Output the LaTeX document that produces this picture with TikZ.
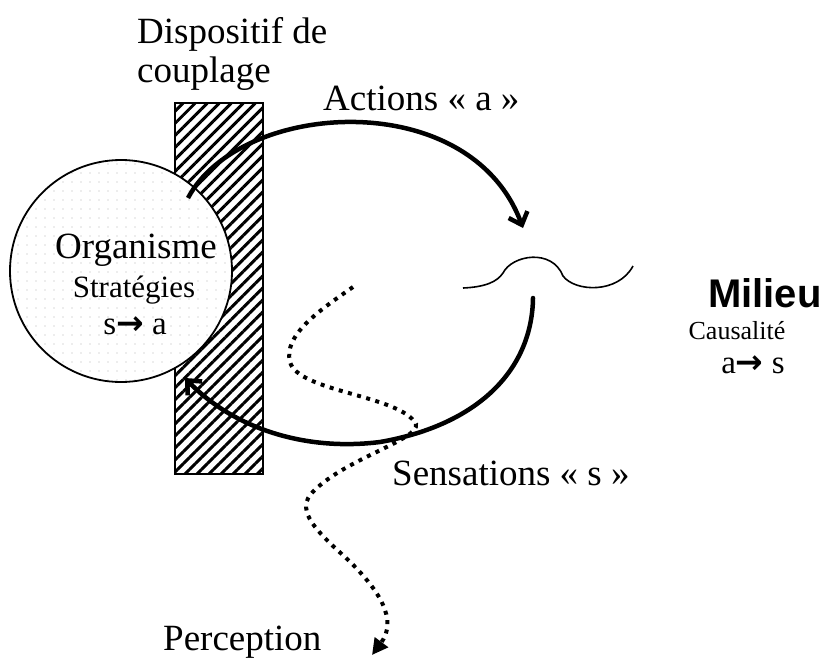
\documentclass[tikz,border=0pt]{standalone}
\usepackage{fontspec}
\setmainfont{Liberation Serif}
\newfontfamily\sansbold{Liberation Sans}
\newfontfamily\symb{DejaVu Sans}
\usetikzlibrary{arrows.meta,patterns.meta}
\begin{document}
\begin{tikzpicture}[x=1pt,y=-1pt,
  lbl/.style={inner sep=0pt,anchor=base west,font=\fontsize{37}{44}\selectfont},
  lblc/.style={inner sep=0pt,anchor=base,font=\fontsize{37}{44}\selectfont},
  small/.style={inner sep=0pt,anchor=base,font=\fontsize{31}{36}\selectfont},
  arrtxt/.style={inner sep=0pt,anchor=base,font=\fontsize{33}{38}\selectfont},
  tiny/.style={inner sep=0pt,anchor=base,font=\fontsize{26}{30}\selectfont},
  thickarc/.style={line width=4.5pt,-{Straight Barb[length=11pt,width=20pt]}},
  milieuline/.style={line width=1.6pt},
  dotline/.style={line width=4pt,dash pattern=on 4pt off 5.5pt},
  dottip/.style={-{Triangle[length=16pt,width=16pt]}},
  hatchbox/.style={line width=2.5pt,pattern={Lines[angle=45,distance=8.5pt,line width=3pt]}},
  organ/.style={line width=1.8pt,pattern={Dots[distance=9pt,radius=0.7pt]},pattern color=black!30}
]
\useasboundingbox (0,0) rectangle (826,659);

% coupling device
\draw[hatchbox] (175,103) rectangle (263,474);
\node[lbl] (disp1) at (137,43) {Dispositif de};
\node[lbl] (disp2) at (137,82) {couplage};

% organism
\fill[white] (121,271) circle[radius=111pt];
\draw[organ] (121,271) circle[radius=111pt];
\coordinate (org) at (121,271);
\node[lblc] (orgn) at (136,258) {Organisme};
\node[small] (strat) at (134,297) {Stratégies};
\node[arrtxt] (sa) at (135,334) {s{\symb\bfseries →} a};

% milieu
\draw[milieuline] (463,288) .. controls (485,287) and (497,282) .. (503,273)
  .. controls (512,255) and (552,248) .. (563,276)
  .. controls (575,292) and (618,294) .. (633,266);
\node[inner sep=0pt,anchor=base west,font=\sansbold\bfseries\fontsize{40}{46}\selectfont] (mil) at (708,307) {Milieu};
\node[tiny] (caus) at (737,339) {Causalité};
\node[arrtxt] (as) at (753,373) {a{\symb\bfseries →} s};

% arcs
\coordinate (aS) at (188,198);
\coordinate (aE) at (523,228);
\draw[thickarc] (aS) .. controls (240,100) and (470,85) .. (aE);
\node[lbl] (act) at (323,110) {Actions « a »};

\coordinate (sS) at (533,298);
\coordinate (sM) at (380,442);
\coordinate (sE) at (185,378);
\draw[thickarc,line cap=round] (sS) .. controls (532,370) and (478,425) .. (sM)
  .. controls (300,452) and (230,425) .. (sE);
\node[lbl] (sens) at (392,485) {Sensations « s »};

% perception
\coordinate (pS) at (353,287);
\coordinate (pE) at (372,655);
\draw[dotline,dottip] (pS) .. controls (320,310) and (283,335) .. (290,362)
  .. controls (298,392) and (400,395) .. (416,424)
  .. controls (420,440) and (340,460) .. (310,495)
  .. controls (298,512) and (315,530) .. (345,557)
  .. controls (380,590) and (398,620) .. (pE);
\node[lbl] (perc) at (163,650) {Perception};
\end{tikzpicture}
\end{document}
